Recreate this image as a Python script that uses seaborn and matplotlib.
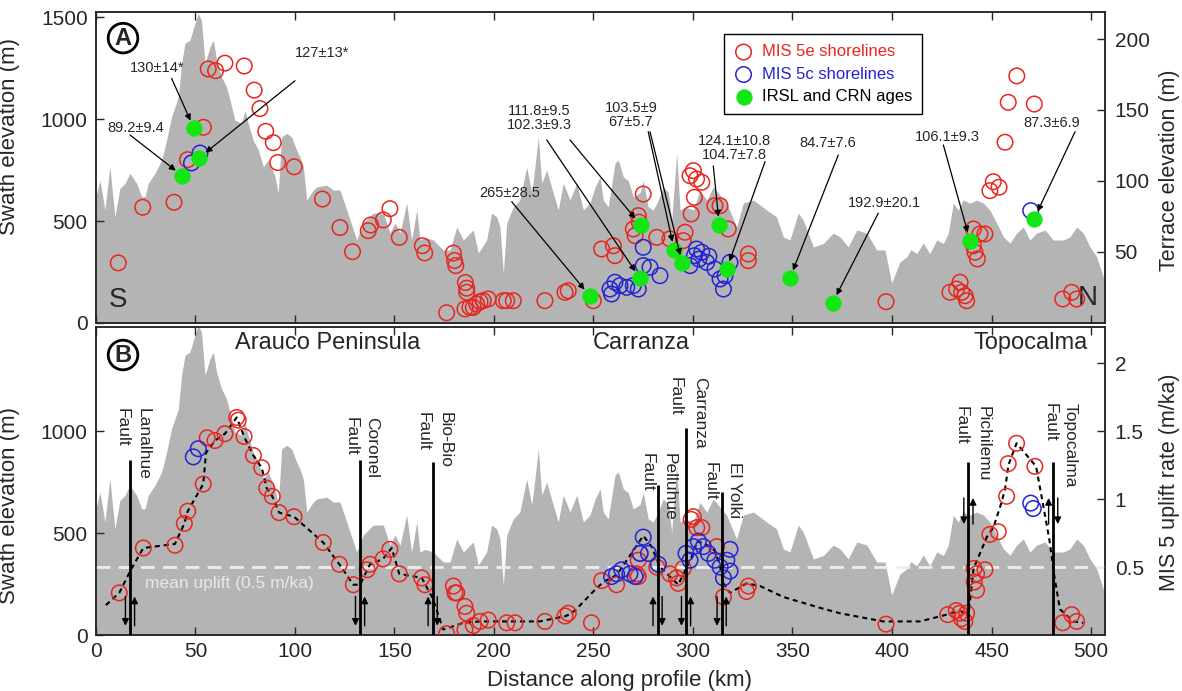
import matplotlib
matplotlib.use("Agg")
import matplotlib.pyplot as plt
import matplotlib.transforms as mtransforms
import numpy as np
import pandas as pd
import seaborn as sns

# ---------------- data ----------------
# Maximum swath elevation along the coastal profile (km, m)
swath_km = [0, 2.0, 4.5, 7.0, 9.5, 12.0, 14.6, 17.1, 20.4, 23.0, 24.6, 26.3, 29.6, 33.0, 35.5,
            38.0, 41.4, 43.0, 44.7, 47.2, 49.7, 51.4, 53.0, 54.8, 57.3, 59.0, 60.6, 63.1, 65.6,
            68.2, 69.8, 73.2, 74.9, 76.5, 79.0, 81.6, 84.1, 86.6, 90.0, 91.6, 93.3, 95.8, 98.3,
            100.8, 102.5, 104.2, 105.9, 109.2, 110.9, 115.9, 119.3, 122.6, 126.0, 131.0, 134.3,
            139.3, 144.4, 147.7, 150.3, 152.8, 156.1, 158.6, 161.2, 162.8, 165.3, 169.5, 174.5,
            177.9, 181.3, 184.6, 188.0, 189.6, 192.1, 196.3, 198.8, 201.4, 203.0, 204.7, 206.4,
            209.7, 213.0, 216.4, 219.0, 222.3, 224.0, 226.5, 229.8, 232.3, 234.8, 238.2, 241.6,
            244.9, 248.2, 250.8, 253.3, 254.9, 257.4, 260.8, 262.5, 265.0, 267.5, 270.0, 273.4,
            275.0, 277.5, 280.0, 282.6, 285.0, 287.6, 289.3, 291.8, 293.5, 296.0, 300.2, 303.5,
            306.9, 310.2, 316.9, 321.9, 325.3, 330.3, 337.0, 342.0, 345.4, 348.7, 352.9, 355.4,
            360.5, 365.5, 370.5, 373.9, 378.0, 382.3, 387.3, 392.3, 396.5, 399.8, 404.0, 407.4,
            409.5, 412.4, 415.7, 419.0, 422.5, 425.8, 428.3, 430.8, 433.3, 435.8, 439.2, 442.5,
            445.9, 449.2, 452.6, 456.0, 459.3, 462.7, 466.0, 469.3, 472.7, 476.9, 481.0, 486.0,
            489.4, 492.8, 496.1, 499.5, 502.9, 506.2, 507.0]
swath_elev = [619, 701, 554, 766, 521, 660, 685, 734, 685, 619, 619, 685, 734, 799, 897,
              1011, 1109, 1273, 1371, 1387, 1469, 1518, 1485, 1273, 1354, 1387, 1289, 1207, 1158,
              1060, 995, 979, 1044, 979, 897, 848, 766, 799, 717, 636, 913, 930, 913,
              848, 814, 765, 603, 652, 667, 676, 652, 652, 554, 407, 490,
              539, 539, 441, 490, 441, 588, 407, 554, 407, 420, 407, 358,
              358, 471, 407, 441, 456, 343, 407, 539, 520, 471, 245, 490,
              569, 603, 765, 637, 912, 686, 750, 637, 554, 686, 603, 686,
              554, 588, 667, 716, 603, 569, 784, 799, 716, 698, 618, 640,
              698, 569, 554, 603, 667, 640, 505, 833, 554, 569, 554, 650,
              603, 667, 588, 471, 588, 603, 554, 520, 422, 407, 539, 505,
              373, 390, 441, 422, 373, 456, 441, 358, 358, 196, 300, 324,
              360, 340, 392, 340, 407, 390, 441, 588, 554, 603, 588, 603,
              588, 554, 490, 422, 392, 441, 471, 407, 441, 456, 407, 407,
              422, 471, 441, 373, 324, 225, 260]

# Panel A: shoreline angle elevations (m)
mis5e_km = [11.2, 23.5, 39.2, 46.0, 54.0, 56.4, 60.1, 64.8, 74.5, 79.5, 82.4, 85.3, 89.1, 91.3,
            99.6, 113.8, 122.6, 128.9, 136.8, 138.0, 144.4, 147.7, 152.4, 164.0, 165.2,
            176.2, 179.6, 180.2, 180.8, 185.6, 186.3, 186.3, 185.4, 187.9, 189.6, 191.3, 193.0,
            194.6, 197.1, 204.7, 206.4, 209.7, 225.6, 235.7, 237.3, 249.9,
            254.1, 260.0, 260.8, 270.0, 270.9, 272.5, 273.0, 275.0, 281.8, 288.4, 295.1, 296.0,
            298.5, 300.2, 301.8, 304.4, 300.7, 299.1, 311.0, 313.6, 317.7, 327.8, 327.8,
            397.0, 429.1, 432.5, 434.2, 435.0, 436.7, 437.5, 440.9, 444.2, 446.7, 440.9, 441.7,
            442.9, 449.2, 450.9, 453.8, 456.8, 458.4, 462.7, 471.5, 485.8, 490.3, 492.8]
mis5e_elev = [42.3, 81.5, 85.0, 115.0, 137.8, 178.9, 177.7, 183.0, 181.0, 164.0, 151.0, 135.0, 127.0, 113.0,
              110.0, 87.3, 67.2, 50.2, 65.0, 69.0, 72.6, 80.5, 60.3, 54.4, 49.3,
              7.2, 49.2, 44.0, 40.4, 28.5, 24.5, 21.6, 9.9, 11.0, 11.0, 13.4, 15.0,
              15.7, 16.9, 15.7, 15.7, 15.7, 15.7, 21.6, 22.7, 15.7,
              52.1, 54.4, 47.4, 66.2, 61.5, 75.6, 71.0, 90.8, 60.3, 59.2, 58.0, 63.9,
              103.7, 107.3, 101.4, 99.1, 88.5, 76.8, 82.6, 82.6, 66.2, 48.6, 43.9,
              15.0, 21.6, 23.9, 28.7, 21.6, 19.2, 15.7, 66.2, 62.7, 62.7, 54.4, 49.8,
              45.1, 93.2, 99.5, 95.6, 127.3, 155.4, 174.0, 154.2, 16.9, 21.6, 16.9]
mis5c_km = [48.0, 52.3, 258.3, 259.1, 260.8, 263.3, 266.7, 270.0, 272.5, 275.0, 275.0, 278.4,
            283.4, 298.5, 300.7, 301.8, 303.0, 304.4, 306.9, 308.0, 311.0, 313.6, 315.3, 316.1,
            318.6, 469.7]
mis5c_elev = [112.7, 119.7, 23.9, 20.4, 28.7, 26.3, 25.1, 26.3, 23.9, 53.3, 40.4, 39.2,
              33.3, 40.4, 47.4, 52.1, 45.0, 49.8, 42.7, 47.0, 38.0, 31.0, 23.9, 33.3,
              42.7, 79.1]
age_km = [43.4, 49.2, 51.8, 248.2, 273.7, 273.4, 290.6, 294.6, 313.2, 316.9, 348.7, 370.2, 439.2, 471.4]
age_elev = [103.7, 137.1, 116.3, 19.0, 69.0, 31.5, 51.4, 42.0, 69.0, 37.8, 31.5, 14.3, 58.0, 73.2]
age_labels = ["89.2±9.4", "130±14*", "127±13*", "265±28.5", "111.8±9.5", "102.3±9.3",
              "103.5±9", "67±5.7", "124.1±10.8", "104.7±7.8", "84.7±7.6", "192.9±20.1",
              "106.1±9.3", "87.3±6.9"]

# Panel B: MIS 5 uplift rates (m/ka)
rate5e_km = [11.7, 23.8, 39.7, 44.4, 46.1, 53.9, 55.9, 59.8, 64.8, 70.7, 71.5, 74.4, 79.1, 83.3,
             85.8, 88.6, 92.0, 99.5, 114.2, 122.3, 129.3, 136.3, 137.7, 144.3, 147.7, 152.4,
             163.7, 165.3, 176.2, 179.6, 180.4, 181.3, 185.4, 186.3, 185.4, 189.6, 193.0, 197.1,
             206.4, 210.6, 225.6, 235.7, 237.3, 249.0, 254.1, 261.6, 271.7, 272.5, 273.4, 272.5,
             281.8, 288.4, 291.7, 292.6, 295.1, 299.1, 300.2, 301.9, 304.4, 311.9, 315.3, 327.8,
             326.9, 397.0, 428.0, 432.3, 434.0, 434.9, 436.6, 437.5, 441.2, 442.5, 446.7, 441.3,
             442.5, 449.2, 453.4, 457.6, 458.4, 462.6, 471.8, 485.8, 490.3, 492.8]
rate5e = [0.31, 0.64, 0.66, 0.82, 0.91, 1.11, 1.45, 1.43, 1.48, 1.60, 1.58, 1.46, 1.32, 1.23,
          1.08, 1.02, 0.90, 0.87, 0.68, 0.52, 0.37, 0.48, 0.52, 0.56, 0.63, 0.45,
          0.42, 0.37, 0.01, 0.36, 0.31, 0.31, 0.21, 0.16, 0.04, 0.07, 0.10, 0.11,
          0.09, 0.09, 0.10, 0.14, 0.16, 0.09, 0.40, 0.37, 0.45, 0.55, 0.60, 0.43,
          0.50, 0.45, 0.42, 0.38, 0.49, 0.85, 0.87, 0.79, 0.79, 0.65, 0.28, 0.36,
          0.32, 0.08, 0.15, 0.18, 0.16, 0.12, 0.10, 0.16, 0.49, 0.45, 0.48, 0.39,
          0.33, 0.74, 0.76, 1.02, 1.26, 1.41, 1.24, 0.09, 0.15, 0.10]
rate5c_km = [48.9, 51.4, 259.1, 261.6, 264.2, 268.3, 270.9, 275.0, 273.4, 277.6, 282.6, 296.5,
             300.2, 302.7, 305.2, 307.7, 298.5, 311.0, 313.6, 315.3, 318.6, 317.0, 318.6,
             469.7, 471.0]
rate5c = [1.31, 1.37, 0.43, 0.45, 0.48, 0.45, 0.43, 0.72, 0.60, 0.60, 0.52, 0.60,
          0.65, 0.69, 0.65, 0.60, 0.55, 0.55, 0.50, 0.42, 0.63, 0.55, 0.47,
          0.97, 0.93]
trend_km = [5.0, 11.7, 17.9, 23.8, 39.7, 44.4, 46.1, 53.9, 55.3, 59.8, 64.8, 70.7, 74.4, 79.1,
            83.3, 85.8, 88.6, 92.0, 99.5, 114.2, 122.3, 129.3, 132.7, 137.7, 144.3, 148.6,
            152.4, 163.7, 169.2, 174.5, 184.6, 193.0, 223.0, 236.3, 240.7, 249.9, 254.9,
            261.6, 270.0, 275.0, 279.2, 283.4, 288.4, 292.6, 300.2, 301.9, 306.1, 311.0,
            313.6, 315.3, 318.6, 326.9, 333.7, 345.4, 363.8, 373.9, 395.6, 414.0, 427.5,
            434.2, 438.4, 441.0, 444.2, 447.6, 450.9, 454.3, 456.8, 458.5, 462.6, 472.4,
            474.9, 479.1, 481.6, 484.4, 491.0, 496.1]
trend_rate = [0.22, 0.31, 0.49, 0.64, 0.67, 0.82, 0.91, 1.11, 1.34, 1.43, 1.48, 1.60, 1.46, 1.32,
              1.23, 1.08, 1.02, 0.90, 0.87, 0.68, 0.52, 0.37, 0.37, 0.52, 0.56, 0.64,
              0.45, 0.42, 0.27, 0.04, 0.09, 0.10, 0.10, 0.14, 0.18, 0.32, 0.39,
              0.44, 0.62, 0.73, 0.65, 0.50, 0.43, 0.37, 0.60, 0.69, 0.67, 0.62,
              0.50, 0.38, 0.31, 0.38, 0.36, 0.28, 0.20, 0.16, 0.10, 0.10, 0.15,
              0.18, 0.14, 0.49, 0.60, 0.72, 0.79, 0.94, 1.07, 1.25, 1.41, 1.24,
              1.04, 0.70, 0.43, 0.19, 0.10, 0.09]
mean_uplift = 0.5

fault_names = ["Lanalhue", "Coronel", "Bio-Bio", "Pelluhue", "Carranza", "El Yolki", "Pichilemu", "Topocalma"]
fault_km = [17.1, 132.7, 169.2, 282.2, 296.5, 314.4, 438.4, 481.0]
region_names = ["Arauco Peninsula", "Carranza", "Topocalma"]

# ---------------- style ----------------
RED = "#e8261f"
BLUE = "#2323d6"
GREEN = "#14e614"
GRAY = "#b4b4b4"

sns.set_style("ticks")
plt.rcParams["font.family"] = ["Liberation Sans", "DejaVu Sans"]
plt.rcParams["axes.linewidth"] = 1.1

fig = plt.figure(figsize=(11.82, 6.91), dpi=100)
axA = fig.add_axes([0.0812, 0.5326, 0.8536, 0.4500])
axB = fig.add_axes([0.0812, 0.0810, 0.8536, 0.4458], sharex=axA)
axA2 = axA.twinx()
axB2 = axB.twinx()

for ax in (axA, axB):
    ax.fill_between(swath_km, 0, swath_elev, color=GRAY, lw=0, zorder=0)
    ax.set_xlim(0, 507)
    ax.set_xticks(np.arange(0, 501, 50))
    ax.tick_params(axis="x", direction="in", top=True, bottom=True, length=6, width=1,
                   labelsize=15, pad=5)
    ax.tick_params(axis="y", direction="in", length=6, width=1, labelsize=15, pad=6)
axA.tick_params(axis="x", labelbottom=False)
axA.set_ylim(0, 1525)
axA.set_yticks([0, 500, 1000, 1500])
axB.set_ylim(0, 1510)
axB.set_yticks([0, 500, 1000])

for ax in (axA2, axB2):
    ax.tick_params(axis="y", direction="in", length=6, width=1, labelsize=15, pad=7)
axA2.set_ylim(0, 219)
axA2.set_yticks([50, 100, 150, 200])
axB2.set_ylim(0, 2.265)
axB2.set_yticks([0.5, 1, 1.5, 2])
axB2.set_yticklabels(["0.5", "1", "1.5", "2"])

circ = dict(s=125, facecolor="none", linewidth=1.1)

# ---------------- panel A ----------------
sns.scatterplot(x=mis5e_km, y=mis5e_elev, ax=axA2, color=RED, edgecolor=RED,
                label="MIS 5e shorelines", zorder=3, **circ)
sns.scatterplot(x=mis5c_km, y=mis5c_elev, ax=axA2, color=BLUE, edgecolor=BLUE,
                label="MIS 5c shorelines", zorder=4, **circ)
sns.scatterplot(x=age_km, y=age_elev, ax=axA2, color=GREEN, edgecolor=GREEN, s=125,
                linewidth=0.5, label="IRSL and CRN ages", zorder=5)

leg = axA2.legend(loc="upper left", bbox_to_anchor=(0.622, 0.928), frameon=True,
                  fancybox=False, edgecolor="black", framealpha=1, fontsize=12,
                  labelcolor=[RED, BLUE, "black"], handletextpad=0.5, borderpad=0.6,
                  labelspacing=0.45, borderaxespad=0, handlelength=1.2)
leg.get_frame().set_linewidth(1.0)

# age labels (grouped text blocks) and their arrows
label_groups = [[0], [1], [2], [3], [4, 5], [6, 7], [8, 9], [10], [11], [12], [13]]
label_pos = [(20.1, 137.3), (30.7, 179.6), (113.6, 190.1), (208.0, 91.5), (222.6, 144.4),
             (268.8, 146.5), (320.6, 123.2), (367.8, 126.8), (396.0, 84.5), (427.6, 131.0),
             (480.4, 140.8)]
arrow_start = [(17.1, 132.4), (38.0, 172.3), (100.0, 170.6), (208.9, 85.4), (238.2, 128.9),
               (226.5, 128.9), (277.5, 134.7), (278.4, 134.7), (310.2, 110.6), (336.2, 113.6),
               (373.0, 118.3), (393.1, 77.3), (425.8, 125.4), (492.0, 134.7)]
for grp, (tx, ty) in zip(label_groups, label_pos):
    axA2.text(tx, ty, "\n".join(age_labels[i] for i in grp), ha="center", va="center",
              fontsize=10.5, linespacing=1.0, zorder=6)
for i, (sx, sy) in enumerate(arrow_start):
    axA2.annotate("", xy=(age_km[i], age_elev[i]), xytext=(sx, sy),
                  arrowprops=dict(arrowstyle="-|>", color="black", lw=0.9,
                                  mutation_scale=9, shrinkA=0, shrinkB=6), zorder=6)

axA.text(0.022, 0.075, "S", transform=axA.transAxes, fontsize=20, ha="center", va="center")
axA.text(0.993, 0.08, "N", transform=axA.transAxes, fontsize=20, ha="right", va="center")

# ---------------- panel B ----------------
axB2.axhline(mean_uplift, color="#eeeeee", lw=2, dashes=(5, 3), zorder=1)
axB2.text(24.6, mean_uplift - 0.12, "mean uplift (%.1f m/ka)" % mean_uplift, color="#e8e8e8",
          fontsize=12.5, va="center", ha="left", zorder=2)

sns.lineplot(x=trend_km, y=trend_rate, ax=axB2, sort=False, estimator=None, color="black",
             lw=1.5, zorder=3)
axB2.lines[-1].set_dashes((2.4, 1.9))

sns.scatterplot(x=rate5e_km, y=rate5e, ax=axB2, color=RED, edgecolor=RED, zorder=4, **circ)
sns.scatterplot(x=rate5c_km, y=rate5c, ax=axB2, color=BLUE, edgecolor=BLUE, zorder=5, **circ)

# faults: vertical trace, labels, and slip arrows
blend = mtransforms.blended_transform_factory(axB2.transData, axB2.transAxes)
line_top = [0.568, 0.568, 0.563, 0.487, 0.672, 0.465, 0.563, 0.563]
text_top = [0.737, 0.708, 0.724, 0.59, 0.838, 0.562, 0.745, 0.753]
text_dx = [(-4.2, 6.5), (-4.6, 5.7), (-5.0, 6.2), (-5.3, 5.7), (-5.5, 6.8), (-5.9, 6.5),
           (-3.9, 7.5), (-1.5, 8.3)]
sense = [(-1, 1), (-1, 1), (1, -1), (1, -1), (-1, 1), (-1, 1), (-1, 1), (1, -1)]
arrow_band = [(0.03, 0.125)] * 6 + [(0.36, 0.445)] * 2
for name, km, top, ttop, (dl, dr), (sl, sr), (y0, y1) in zip(
        fault_names, fault_km, line_top, text_top, text_dx, sense, arrow_band):
    axB2.plot([km, km], [0, top], transform=blend, color="black", lw=2.0, zorder=6,
              solid_capstyle="butt")
    axB2.text(km + dl, ttop, "Fault", transform=blend, rotation=270, ha="center", va="top",
              fontsize=12.5, zorder=7)
    axB2.text(km + dr, ttop, name, transform=blend, rotation=270, ha="center", va="top",
              fontsize=12.5, zorder=7)
    for side, s in ((-2.3, sl), (2.3, sr)):
        ya, yb = (y0, y1) if s > 0 else (y1, y0)
        axB2.annotate("", xy=(km + side, yb), xytext=(km + side, ya), xycoords=blend,
                      textcoords=blend,
                      arrowprops=dict(arrowstyle="-|>", color="black", lw=1.0,
                                      mutation_scale=10, shrinkA=0, shrinkB=0), zorder=7)

region_pos = [(116.3, "center"), (273.9, "center"), (498.5, "right")]
for name, (x, ha) in zip(region_names, region_pos):
    axB2.text(x, 0.948, name, transform=blend, fontsize=17, ha=ha, va="center", zorder=7)

# panel tags
for ax, tag, yy in ((axA, "A", 0.916), (axB, "B", 0.909)):
    ax.text(0.0268, yy, tag, transform=ax.transAxes, fontsize=17, fontweight="bold",
            ha="center", va="center", zorder=8,
            bbox=dict(boxstyle="circle,pad=0.14", fc="none", ec="black", lw=2))

# ---------------- labels ----------------
axA.set_ylabel("Swath elevation (m)", fontsize=16)
axA.yaxis.set_label_coords(-0.075, 0.6)
axB.set_ylabel("Swath elevation (m)", fontsize=16)
axB.yaxis.set_label_coords(-0.075, 0.42)
axA2.set_ylabel("Terrace elevation (m)", fontsize=15.5)
axA2.yaxis.set_label_coords(1.054, 0.49)
axB2.set_ylabel("MIS 5 uplift rate (m/ka)", fontsize=15.5)
axB2.yaxis.set_label_coords(1.054, 0.497)
axB.set_xlabel("Distance along profile (km)", fontsize=16)
axB.xaxis.set_label_coords(0.519, -0.115)

fig.savefig("out.png", dpi=100)
